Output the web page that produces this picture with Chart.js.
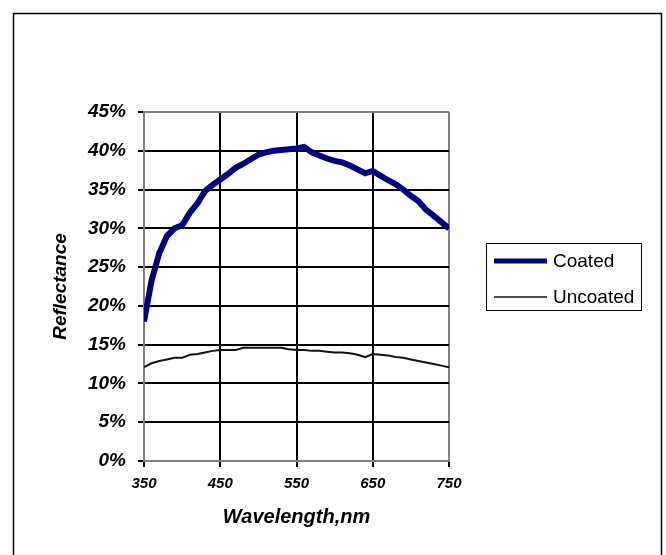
<!DOCTYPE html>
<html>
<head>
<meta charset="utf-8">
<script src="https://cdn.jsdelivr.net/npm/chart.js@4/dist/chart.umd.min.js"></script>
<style>
  html, body { margin: 0; padding: 0; background: #fff; }
  #wrap { width: 666px; height: 555px; }
</style>
</head>
<body>
<div id="wrap"><canvas id="chart" width="666" height="555"></canvas></div>
<script>
// wavelengths in nm
const wavelengths = [350, 360, 370, 380, 390, 400, 410, 420, 430, 440,
  450, 460, 470, 480, 490, 500, 510, 520, 530, 540,
  550, 560, 570, 580, 590, 600, 610, 620, 630, 640,
  650, 660, 670, 680, 690, 700, 710, 720, 730, 740, 750];

// reflectance, %
const coated = [18.0, 23.3, 26.8, 29.0, 30.0, 30.4, 32.0, 33.2, 34.8, 35.6,
  36.3, 37.0, 37.8, 38.3, 38.9, 39.5, 39.8, 40.0, 40.1, 40.2,
  40.3, 40.5, 39.8, 39.4, 39.0, 38.7, 38.5, 38.1, 37.6, 37.1,
  37.4, 36.8, 36.2, 35.7, 35.0, 34.2, 33.5, 32.4, 31.6, 30.8, 30.0];

const uncoated = [12.1, 12.6, 12.9, 13.1, 13.3, 13.3, 13.7, 13.8, 14.0, 14.2,
  14.3, 14.3, 14.3, 14.6, 14.6, 14.6, 14.6, 14.6, 14.6, 14.4,
  14.3, 14.3, 14.2, 14.2, 14.1, 14.0, 14.0, 13.9, 13.7, 13.4,
  13.8, 13.7, 13.6, 13.4, 13.3, 13.1, 12.9, 12.7, 12.5, 12.3, 12.1];

const seriesNames = ["Coated", "Uncoated"];
const xTicks = [350, 450, 550, 650, 750];

const toPoints = vals => vals.map((v, i) => ({ x: wavelengths[i], y: v }));

// outer frame + boxed legend
const framePlugin = {
  id: "frame",
  afterDraw(chart) {
    const ctx = chart.ctx;
    ctx.save();
    ctx.strokeStyle = "#000";
    ctx.lineWidth = 1.5;
    ctx.strokeRect(13.5, 13.5, 648, 560);

    // legend
    ctx.lineWidth = 1;
    ctx.strokeRect(486.5, 243.5, 155, 67);
    const rows = [261, 297];
    chart.data.datasets.forEach((ds, i) => {
      ctx.strokeStyle = ds.borderColor;
      ctx.lineWidth = i === 0 ? 5 : 1.5;
      ctx.beginPath();
      ctx.moveTo(494, rows[i]);
      ctx.lineTo(547, rows[i]);
      ctx.stroke();
      ctx.fillStyle = "#000";
      ctx.font = "19px 'Liberation Sans', Arial, sans-serif";
      ctx.textBaseline = "middle";
      ctx.fillText(ds.label, 553, rows[i] + 1);
    });
    ctx.restore();
  }
};

new Chart(document.getElementById("chart"), {
  type: "line",
  data: {
    datasets: [
      { label: seriesNames[0], data: toPoints(coated), borderColor: "#000080",
        borderWidth: 6, pointRadius: 0, tension: 0 },
      { label: seriesNames[1], data: toPoints(uncoated), borderColor: "#111",
        borderWidth: 2, pointRadius: 0, tension: 0 }
    ]
  },
  options: {
    responsive: false,
    animation: false,
    layout: { padding: { left: 0, right: 217, top: 112, bottom: 0 } },
    plugins: { legend: { display: false }, tooltip: { enabled: false } },
    scales: {
      x: {
        type: "linear", min: 350, max: 750,
        afterBuildTicks: s => { s.ticks = xTicks.map(v => ({ value: v })); },
        afterFit: s => { s.height = 94; },
        border: { color: "#808080", width: 2 },
        grid: {
          color: c => (c.tick && c.tick.value === 750) ? "#808080" : "#000",
          lineWidth: 2, tickLength: 6, tickColor: "#000"
        },
        ticks: {
          color: "#000", padding: 8, maxRotation: 0,
          font: { family: "'Liberation Sans', Arial, sans-serif", size: 15, weight: "bold", style: "italic" }
        },
        title: {
          display: true, text: "Wavelength,nm", color: "#000",
          padding: { top: 0, bottom: 26 },
          font: { family: "'Liberation Sans', Arial, sans-serif", size: 20, weight: "bold", style: "italic" }
        }
      },
      y: {
        min: 0, max: 45,
        ticks: {
          stepSize: 5, color: "#000", padding: 12,
          callback: v => v + "%",
          font: { family: "'Liberation Sans', Arial, sans-serif", size: 19, weight: "bold", style: "italic" }
        },
        afterFit: s => { s.width = 144; },
        border: { color: "#808080", width: 2 },
        grid: {
          color: c => (c.tick && c.tick.value === 45) ? "#808080" : "#000",
          lineWidth: 2, tickLength: 6, tickColor: "#000"
        },
        title: {
          display: true, text: "Reflectance", color: "#000",
          padding: { top: 49, bottom: 0 },
          font: { family: "'Liberation Sans', Arial, sans-serif", size: 19, weight: "bold", style: "italic" }
        }
      }
    }
  },
  plugins: [framePlugin]
});
</script>
</body>
</html>
